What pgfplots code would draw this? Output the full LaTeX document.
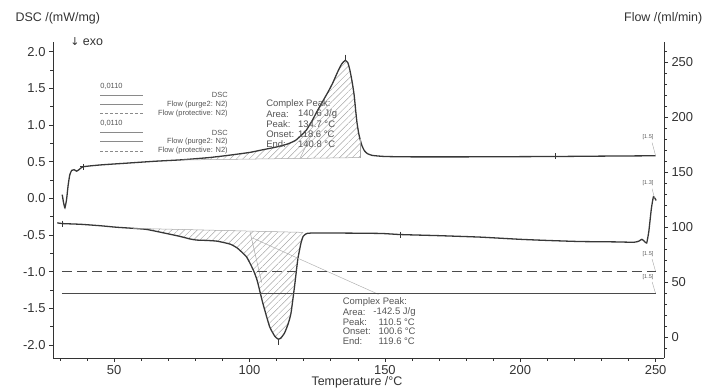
\documentclass[border=0pt]{standalone}
\usepackage{fontspec}
\setmainfont{Liberation Sans}
\newfontfamily\dejavu{DejaVu Sans}
\usepackage{pgfplots}
\pgfplotsset{compat=1.18}
\usepgfplotslibrary{fillbetween}
\usetikzlibrary{patterns.meta}
\definecolor{curve}{HTML}{383838}
\definecolor{txt}{HTML}{333333}
\definecolor{ann}{HTML}{555555}
\definecolor{flow}{HTML}{4A4A4A}
\definecolor{leg}{HTML}{8A8A8A}
\tikzset{
  annot/.style={font=\fontsize{9.5}{10}\selectfont, text=ann, inner sep=0pt},
  legt/.style={font=\fontsize{7.5}{8}\selectfont, text=ann, inner sep=0pt},
  tinyl/.style={font=\fontsize{5.5}{6}\selectfont, text=ann, inner sep=0pt},
}
\pgfplotsset{
  common/.style={
    scale only axis, width=611bp, height=316bp, at={(0,0)}, anchor=south west,
    xmin=27.4, xmax=253.1,
    tick align=outside, major tick length=4bp, minor tick length=2.5bp,
    every tick/.style={color=txt, line width=0.6bp},
    axis line style={color=txt, line width=0.8bp},
    tick label style={font=\fontsize{13}{15}\selectfont, text=txt},
    /pgf/number format/assume math mode=true,
    clip=false,
  },
}
\begin{document}
\begin{tikzpicture}
% ---------------- DSC axis (left) ----------------
\begin{axis}[common,
  ymin=-2.179, ymax=2.132,
  axis y line*=left, axis x line*=bottom,
  xtick={50,100,150,200,250}, minor xtick={30,40,...,250},
  xticklabel style={inner sep=1bp, yshift=-2bp},
  ytick={-2,-1.5,-1,-0.5,0,0.5,1,1.5,2},
  yticklabels={-2.0,-1.5,-1.0,-0.5,0.0,0.5,1.0,1.5,2.0},
  minor ytick={-1.75,-1.25,-0.75,-0.25,0.25,0.75,1.25,1.75},
  xlabel={Temperature /°C},
  every axis x label/.style={at={(axis description cs:0.4975,-0.0775)}, anchor=center, inner sep=0pt, font=\fontsize{12.5}{14}\selectfont, text=txt},
  ylabel={DSC /(mW/mg)},
  every axis y label/.style={at={(axis description cs:-0.067,1.076)}, anchor=west, font=\fontsize{12.5}{14}\selectfont, text=txt},
]
% upper DSC curve (heating)
\addplot[curve, line width=1.3bp, smooth, tension=0.3, name path=up] coordinates {
(30.8,0.05) (31.3,-0.06) (31.8,-0.13) (32.4,-0.02) (33.0,0.18) (33.6,0.32) (34.3,0.38) (35.2,0.39) (36.1,0.37) (37.0,0.39) (38.5,0.43) (45,0.455) (55,0.48) (65,0.505) (75,0.525) (85,0.555) (92,0.585) (100,0.625) (104,0.655) (110,0.70) (114,0.74) (117,0.79) (120,0.89) (121,0.93) (123,1.05) (125,1.19) (127,1.32) (129,1.45) (130.7,1.57) (132.5,1.72) (134,1.83) (135.3,1.88) (136.3,1.85) (137.0,1.76) (137.6,1.65) (138.2,1.52) (138.7,1.39) (139.2,1.20) (139.7,1.03) (140.3,0.89) (140.8,0.81) (141.5,0.72) (142.4,0.65) (143.5,0.61) (145.3,0.585) (150,0.57) (160,0.565) (180,0.565) (212.8,0.57) (230,0.575) (250,0.58)};
\addplot[gray!70, line width=0.5bp, name path=ub] coordinates {(75,0.522) (140.8,0.555)};
\addplot[pattern={Lines[angle=45,distance=4.5bp,line width=0.45bp]}, pattern color=gray!70, draw=none]
  fill between[of=up and ub, soft clip={domain=75:140.8}];
\addplot[gray!70, line width=0.5bp] coordinates {(140.8,0.555) (140.8,0.81)};
\addplot[gray!70, line width=0.5bp] coordinates {(118.6,0.545) (123.5,0.91)};
% lower DSC curve (cooling)
\addplot[curve, line width=1.3bp, smooth, tension=0.3, name path=lo] coordinates {
(29,-0.335) (30.8,-0.345) (37.6,-0.355) (45,-0.375) (50.8,-0.395) (57,-0.41) (62,-0.425) (68,-0.47) (74.3,-0.52) (78,-0.555) (80.4,-0.57) (84,-0.575) (88,-0.585) (92.8,-0.625) (95.5,-0.68) (98.9,-0.80) (101.4,-0.98) (102.8,-1.12) (104.9,-1.43) (107.4,-1.75) (109.3,-1.88) (110.5,-1.92) (111.5,-1.91) (112.9,-1.84) (114.2,-1.72) (115.3,-1.57) (116.6,-1.21) (117.8,-0.84) (119,-0.61) (119.8,-0.52) (120.9,-0.485) (122.5,-0.475) (135,-0.475) (148.6,-0.48) (155.8,-0.495) (170,-0.51) (185.3,-0.53) (200,-0.56) (209.8,-0.575) (222,-0.59) (235,-0.595) (242,-0.60) (243.8,-0.585) (244.9,-0.56) (245.8,-0.585) (246.7,-0.61) (247.5,-0.45) (248.4,-0.15) (249.2,0.02) (250.2,-0.03)};
\addplot[gray!70, line width=0.5bp, name path=lb] coordinates {(57,-0.41) (119.8,-0.465)};
\addplot[pattern={Lines[angle=45,distance=4.5bp,line width=0.45bp]}, pattern color=gray!70, draw=none]
  fill between[of=lo and lb, soft clip={domain=57:119.8}];
\addplot[gray!70, line width=0.5bp] coordinates {(100.2,-0.46) (104.5,-1.15)};
\addplot[gray!60, line width=0.5bp] coordinates {(101.4,-0.546) (147.6,-1.31)};
% markers
\addplot[only marks, mark=+, mark size=3bp, curve, line width=0.6bp] coordinates {(38.5,0.43) (212.8,0.57) (30.8,-0.345) (155.8,-0.495)};
\addplot[only marks, mark=|, mark size=3bp, curve, line width=0.6bp] coordinates {(135.3,1.92) (110.5,-1.96)};

% legend block
\draw[leg, line width=0.6bp] (axis cs:44.8,1.41) -- (axis cs:60.6,1.41);
\draw[leg, line width=0.6bp] (axis cs:44.8,1.282) -- (axis cs:60.6,1.282);
\draw[leg, line width=0.6bp, dash pattern=on 3bp off 2bp] (axis cs:44.8,1.16) -- (axis cs:60.6,1.16);
\draw[leg, line width=0.6bp] (axis cs:44.8,0.895) -- (axis cs:60.6,0.895);
\draw[leg, line width=0.6bp] (axis cs:44.8,0.772) -- (axis cs:60.6,0.772);
\draw[leg, line width=0.6bp, dash pattern=on 3bp off 2bp] (axis cs:44.8,0.645) -- (axis cs:60.6,0.645);
\node[legt, anchor=west] at (axis cs:44.8,1.53) {0,0110};
\node[legt, anchor=east] at (axis cs:92,1.41) {DSC};
\node[legt, anchor=east] at (axis cs:92,1.282) {Flow (purge2: N2)};
\node[legt, anchor=east] at (axis cs:92,1.16) {Flow (protective: N2)};
\node[legt, anchor=west] at (axis cs:44.8,1.023) {0,0110};
\node[legt, anchor=east] at (axis cs:92,0.895) {DSC};
\node[legt, anchor=east] at (axis cs:92,0.772) {Flow (purge2: N2)};
\node[legt, anchor=east] at (axis cs:92,0.645) {Flow (protective: N2)};

% upper annotation
\node[annot, anchor=west] at (axis cs:106.1,1.285) {Complex Peak:};
\node[annot, anchor=west] at (axis cs:106.1,1.15) {Area:};
\node[annot, anchor=west] at (axis cs:106.1,1.013) {Peak:};
\node[annot, anchor=west] at (axis cs:106.1,0.877) {Onset:};
\node[annot, anchor=west] at (axis cs:106.1,0.74) {End:};
\node[annot, anchor=west] at (axis cs:117.9,1.15) {140.6 J/g};
\node[annot, anchor=west] at (axis cs:117.9,1.013) {134.7 °C};
\node[annot, anchor=west] at (axis cs:117.9,0.877) {118.6 °C};
\node[annot, anchor=west] at (axis cs:117.9,0.74) {140.8 °C};
% lower annotation
\node[annot, anchor=west] at (axis cs:134.4,-1.41) {Complex Peak:};
\node[annot, anchor=west] at (axis cs:134.4,-1.555) {Area:};
\node[annot, anchor=west] at (axis cs:134.4,-1.69) {Peak:};
\node[annot, anchor=west] at (axis cs:134.4,-1.82) {Onset:};
\node[annot, anchor=west] at (axis cs:134.4,-1.955) {End:};
\node[annot, anchor=west] at (axis cs:145.7,-1.555) {-142.5 J/g};
\node[annot, anchor=west] at (axis cs:147.6,-1.69) {110.5 °C};
\node[annot, anchor=west] at (axis cs:147.6,-1.82) {100.6 °C};
\node[annot, anchor=west] at (axis cs:147.6,-1.955) {119.6 °C};

% segment labels at right
\node[tinyl] at (axis cs:247.2,0.836) {[1.5]};
\node[tinyl] at (axis cs:247.2,0.205) {[1.3]};
\node[tinyl] at (axis cs:247.2,-0.76) {[1.5]};
\node[tinyl] at (axis cs:247.2,-1.07) {[1.5]};
\draw[gray!70, line width=0.4bp] (axis cs:248.7,0.76) -- (axis cs:250,0.58);
\draw[gray!70, line width=0.4bp] (axis cs:248.7,0.13) -- (axis cs:249.6,0.0);
\draw[gray!70, line width=0.4bp] (axis cs:248.7,-0.83) -- (axis cs:250,-1.0);
\draw[gray!70, line width=0.4bp] (axis cs:248.7,-1.14) -- (axis cs:250,-1.30);

\node[anchor=west, font=\fontsize{12.5}{14}\selectfont, text=txt, inner sep=0pt] at (axis description cs:0.028,1.0) {{\dejavu\fontsize{11}{13}\selectfont ↓} exo};
\end{axis}
% ---------------- Flow axis (right) ----------------
\begin{axis}[common,
  ymin=-18.6, ymax=268.6,
  axis y line*=right, axis x line=none,
  ytick={0,50,100,150,200,250},
  minor ytick={-10,0,...,260},
  ylabel={Flow /(ml/min)},
  every axis y label/.style={at={(axis description cs:0.929,1.076)}, anchor=west, font=\fontsize{12.5}{14}\selectfont, text=txt},
]
\addplot[flow, line width=0.9bp] coordinates {(30.7,40) (250,40)};
\addplot[flow, line width=1.1bp, dash pattern=on 10bp off 5bp] coordinates {(30.7,60) (250,60)};
\end{axis}
\pgfresetboundingbox
\path[use as bounding box] (-53bp,-31bp) rectangle (653bp,358bp);
\end{tikzpicture}
\end{document}
